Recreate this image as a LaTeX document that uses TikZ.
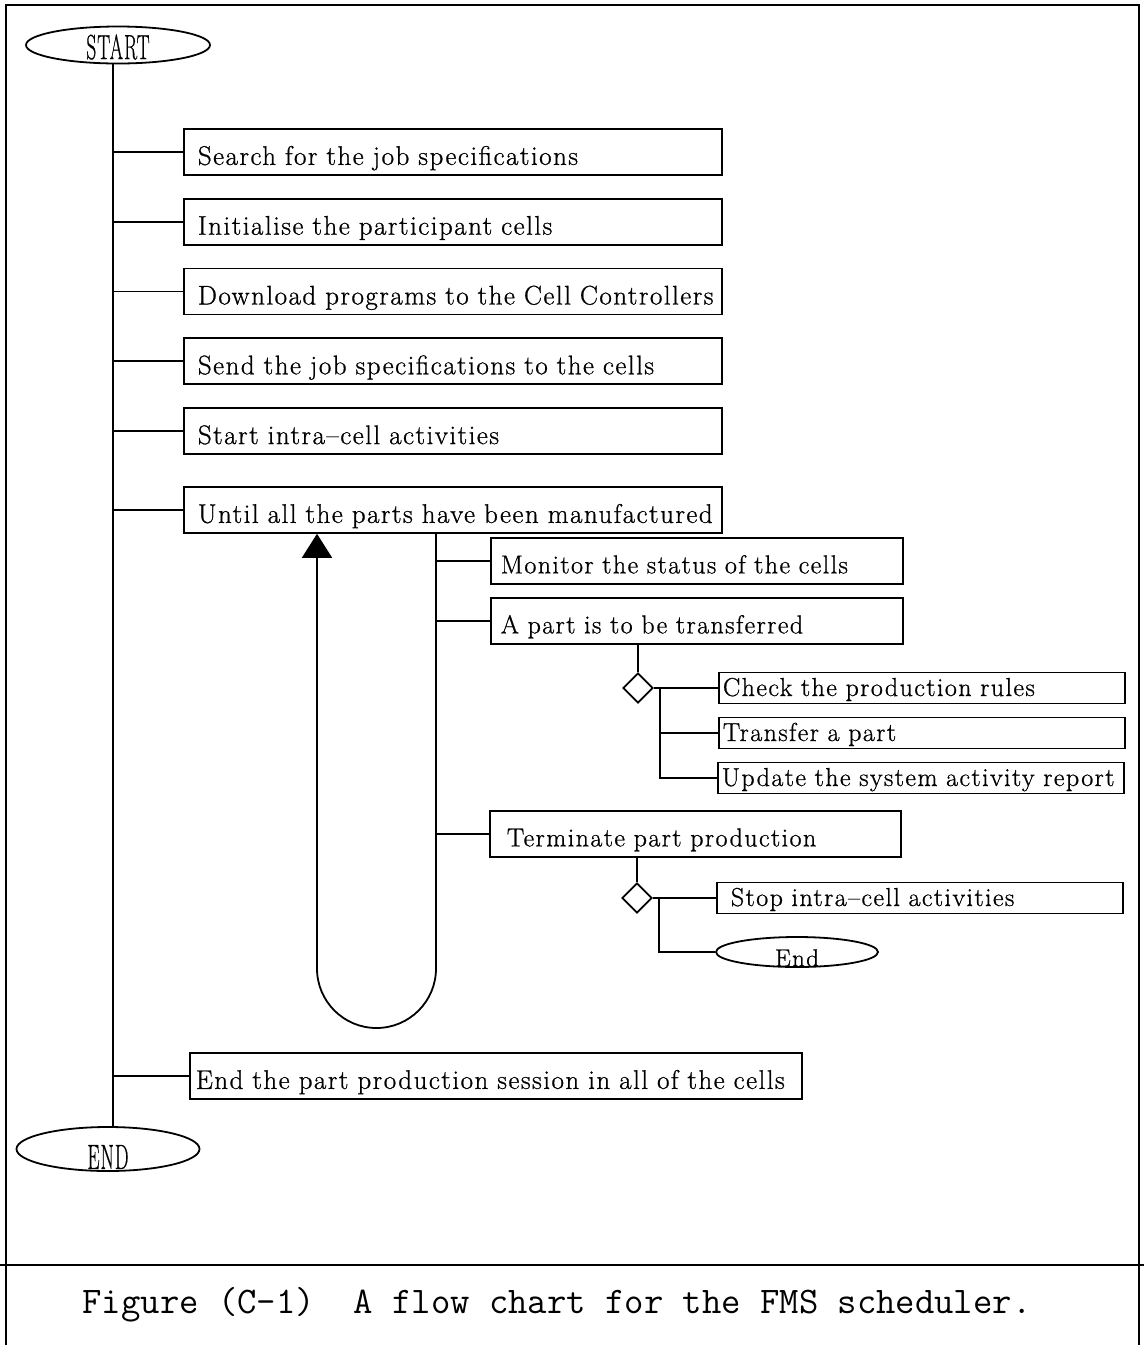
\documentclass[tikz,border=0pt]{standalone}
\usepackage{fontspec}
\usepackage{graphicx}
\setmainfont[LetterSpace=5.5, FakeBold=0.8]{Latin Modern Roman}
\usetikzlibrary{arrows.meta,positioning,shapes.geometric}

\begin{document}
\begin{tikzpicture}[
    x=1pt, y=-1pt,
    line width=1.8pt,
    font=\fontsize{26}{30}\selectfont,
    stepbox/.style={draw, align=left, font=\fontsize{27}{30}\selectfont, minimum height=46pt, inner ysep=0pt, inner xsep=7pt, text width=524pt, text height=26pt, text depth=0pt, execute at begin node=\hspace*{#1}},
    stepbox/.default=7pt,
    subbox/.style={draw, align=left, minimum height=46pt, inner ysep=0pt, inner xsep=10pt, text width=392pt, text height=25pt, text depth=0pt},
    leafbox/.style={draw, align=left, minimum height=31pt, inner ysep=0pt, inner xsep=4pt, text width=398pt, text height=16pt, text depth=0pt},
    term/.style={draw, ellipse, inner sep=0pt},
    decide/.style={draw, diamond, minimum width=30pt, minimum height=30pt, inner sep=0pt},
    cond/.style={font=\fontsize{35}{38}\selectfont},
    arr/.style={-{Triangle[length=24pt,width=30pt]}}
  ]
    \useasboundingbox (0,0) rectangle (1144,1345);
    \draw (6,1345) |- (1139,5) -- (1139,1345);
    \draw (0,1265) -- (1144,1265);

    \node[term, minimum width=184pt, minimum height=37pt] (start) at (118,45) {};
    \node[cond] (starttxt) at ([yshift=-2pt]start.center) {\scalebox{0.55}[1]{START}};
    \node[term, minimum width=183pt, minimum height=44pt] (finish) at (108,1149) {};
    \node[cond] (finishtxt) at ([yshift=-8pt]finish.center) {\scalebox{0.55}[1]{END}};
    \coordinate (spine) at (113,0);

    \node[stepbox, anchor=north west] (search) at (183,128) {Search for the job specifications};
    \node[stepbox, below=22pt of search] (init) {Initialise the participant cells};
    \node[stepbox, below=22pt of init] (download) {Download programs to the Cell Controllers};
    \node[stepbox, below=22pt of download] (send) {Send the job specifications to the cells};
    \node[stepbox, below=22pt of send] (startcell) {Start intra\textendash cell activities};
    \node[stepbox, below=31pt of startcell] (until) {Until all the parts have been manufactured};
    \node[stepbox=0pt, inner xsep=6pt, text width=600pt, anchor=north west] (endsession) at (189,1052) {End the part production session in all of the cells};

    \draw (start.south -| spine) -- (finish.north -| spine);
    \foreach \b in {search,init,download,send,startcell,until,endsession}
      \draw (\b.west -| spine) -- (\b.west);

    \coordinate (loopR) at (436,1028);
    \coordinate (loopL) at (317,1028);
    \draw[arr, rounded corners=59.5pt] (until.south -| loopR) -- (loopR) -- (loopL) -- (until.south -| loopL);

    \node[subbox, anchor=north west] (monitor) at (490,537) {Monitor the status of the cells};
    \node[subbox, anchor=north west] (xfer) at (490,597) {A part is to be transferred};
    \node[subbox, inner xsep=17pt, text width=377pt, anchor=north west] (terminate) at (489,810) {Terminate part production};
    \foreach \b in {monitor,xfer,terminate}
      \draw (\b.west -| loopR) -- (\b.west);

    \node[decide] (d1) at (638,688) {};
    \node[leafbox, anchor=west] (check) at (718,688) {Check the production rules};
    \node[leafbox, anchor=west] (transfer) at (718,733) {Transfer a part};
    \node[leafbox, anchor=west] (update) at (717,778) {Update the system activity report};
    \coordinate (busA) at (660,688);
    \draw (xfer.south -| d1) -- (d1.north);
    \draw (d1.east) -- (check.west);
    \draw (busA) |- (update.west);
    \draw (transfer.west -| busA) -- (transfer.west);

    \node[decide] (d2) at (637,898) {};
    \node[leafbox, inner xsep=14pt, text width=378pt, anchor=west] (stop) at (716,898) {Stop intra\textendash cell activities};
    \node[term, minimum width=162pt, minimum height=30pt] (endsub) at (797,952) {};
    \node[font=\fontsize{25}{28}\selectfont] (endsubtxt) at ([yshift=-6pt]endsub.center) {End};
    \coordinate (busB) at (659,898);
    \draw (terminate.south -| d2) -- (d2.north);
    \draw (d2.east) -- (stop.west);
    \draw (busB) |- (endsub.west);

    \node[font=\ttfamily\fontsize{37.6}{40}\selectfont] (caption) at (557,1305) {Figure (C\textendash 1)~~A flow chart for the FMS scheduler.};
  \end{tikzpicture}
\end{document}
